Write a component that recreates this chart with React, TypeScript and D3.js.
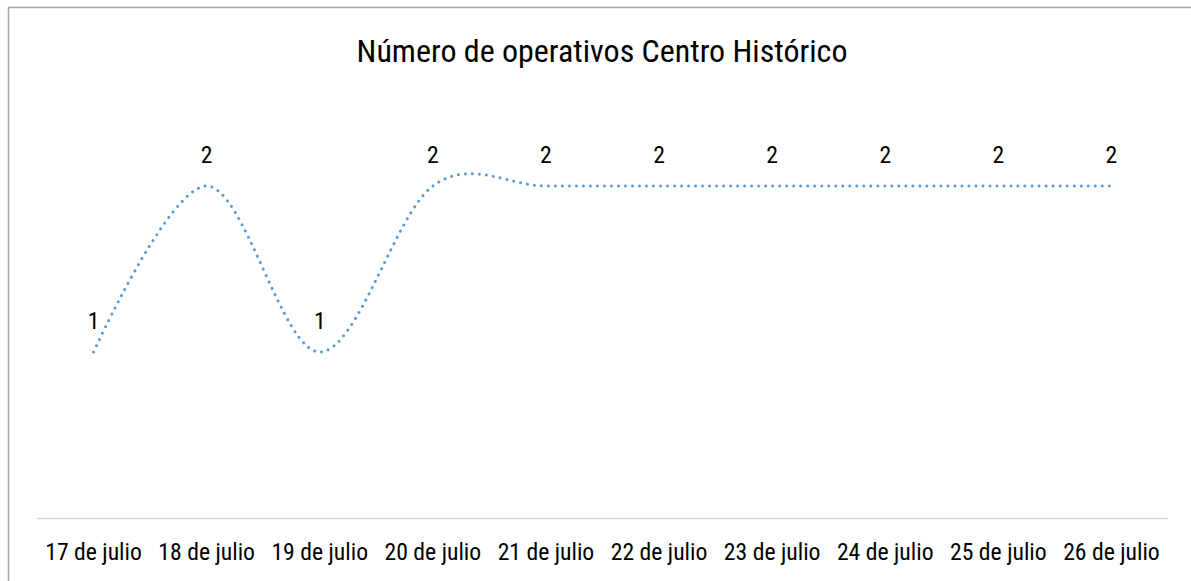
import React, { useRef, useEffect } from 'react';
import * as d3 from 'd3';

const categories = [
  '17 de julio', '18 de julio', '19 de julio', '20 de julio', '21 de julio',
  '22 de julio', '23 de julio', '24 de julio', '25 de julio', '26 de julio',
];
const operativos = [1, 2, 1, 2, 2, 2, 2, 2, 2, 2];
const title = 'Número de operativos Centro Histórico';

const FONT = "'Roboto Condensed', 'Liberation Sans Narrow', 'DejaVu Sans Condensed', 'Roboto', sans-serif";

const App = () => {
  const ref = useRef<SVGSVGElement>(null);

  useEffect(() => {
    const svg = d3.select(ref.current);
    svg.selectAll('*').remove();

    const width = 1191, height = 581;
    svg.attr('width', width).attr('height', height);

    // chart frame (runs off the right/bottom edge like the screenshot)
    svg.append('rect')
      .attr('x', 8.5).attr('y', 7.5)
      .attr('width', 1200).attr('height', 600)
      .attr('fill', '#fff')
      .attr('stroke', '#a6a6a6')
      .attr('stroke-width', 1.5);

    const x = d3.scaleBand().domain(categories).range([37, 1168]);
    const y = d3.scaleLinear().domain([0, 2.5]).range([518, 103]);
    const cx = (c: string) => (x(c) as number) + x.bandwidth() / 2;

    svg.append('text')
      .attr('x', 602).attr('y', 62)
      .attr('text-anchor', 'middle')
      .attr('font-family', FONT)
      .attr('font-size', 32)
      .attr('fill', '#000')
      .text(title);

    svg.append('line')
      .attr('x1', 37).attr('x2', 1168)
      .attr('y1', 518.5).attr('y2', 518.5)
      .attr('stroke', '#d9d9d9')
      .attr('stroke-width', 1.5);

    svg.append('g')
      .selectAll('text')
      .data(categories)
      .enter()
      .append('text')
      .attr('x', (d) => cx(d))
      .attr('y', 560)
      .attr('text-anchor', 'middle')
      .attr('font-family', FONT)
      .attr('font-size', 23.7)
      .attr('fill', '#000')
      .text((d) => d);

    const line = d3.line<number>()
      .x((d, i) => cx(categories[i]))
      .y((d) => y(d))
      .curve(d3.curveCatmullRom.alpha(0));

    svg.append('path')
      .datum(operativos)
      .attr('d', line)
      .attr('fill', 'none')
      .attr('stroke', '#5b9bd5')
      .attr('stroke-width', 3)
      .attr('stroke-linecap', 'round')
      .attr('stroke-dasharray', '0.01 7');

    svg.append('g')
      .selectAll('text')
      .data(operativos)
      .enter()
      .append('text')
      .attr('x', (d, i) => cx(categories[i]))
      .attr('y', (d) => y(d) - 23)
      .attr('text-anchor', 'middle')
      .attr('font-family', FONT)
      .attr('font-size', 23.7)
      .attr('fill', '#000')
      .text((d) => d);
  }, []);

  return <svg ref={ref} style={{ position: 'absolute', left: 0, top: 0 }}></svg>;
};

export default App;
